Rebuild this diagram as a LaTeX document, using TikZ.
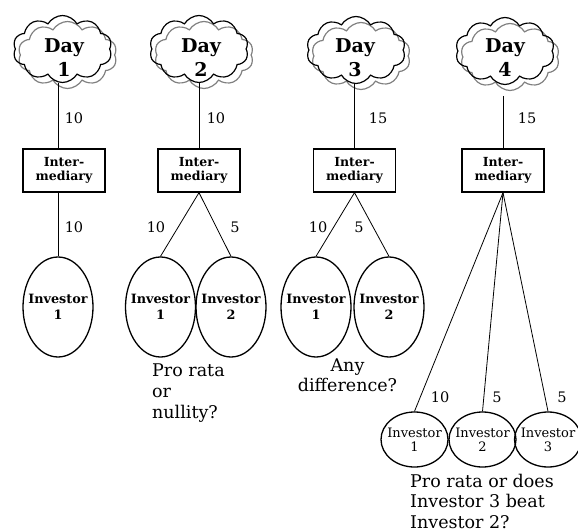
\documentclass[tikz,border=0pt]{standalone}
\usepackage{fontspec}
\setmainfont{DejaVu Serif}
\usetikzlibrary{shapes.symbols,shapes.geometric}
\begin{document}
\begin{tikzpicture}[x=1pt,y=-1pt,
 daycloud/.style={cloud, draw, line width=1.2pt, cloud puffs=10, cloud puff arc=120, minimum width=99pt, minimum height=67pt, inner sep=0pt},
 dayshadow/.style={daycloud, draw=black!50},
 daytxt/.style={font=\bfseries\fontsize{19}{24}\selectfont, align=center, inner sep=0pt},
 interbox/.style={draw, line width=1.3pt, minimum width=82pt, minimum height=43pt, inner sep=0pt, font=\bfseries\fontsize{12.5}{14.5}\selectfont, align=center},
 bigell/.style={ellipse, draw, line width=1.3pt, minimum width=70pt, minimum height=100pt, inner sep=0pt},
 bigtxt/.style={font=\bfseries\fontsize{12.8}{16}\selectfont, align=center, inner sep=0pt},
 smallell/.style={ellipse, draw, line width=1.3pt, minimum width=67pt, minimum height=55pt, inner sep=0pt},
 smalltxt/.style={font=\fontsize{13}{14}\selectfont, align=center, inner sep=0pt},
 amt/.style={font=\fontsize{14.5}{17}\selectfont, inner sep=0pt},
 note/.style={font=\fontsize{17.5}{21}\selectfont, align=left, inner sep=0pt, anchor=north west},
 link/.style={line width=0.8pt}
]
\path[use as bounding box] (0,0) rectangle (578,532);

% clouds (shadow first)
\node[dayshadow] (c1s) at (67.5,55) {};
\node[dayshadow] (c2s) at (204,55) {};
\node[dayshadow] (c3s) at (361,56) {};
\node[dayshadow] (c4s) at (510,57) {};
\node[daycloud] (c1) at (62.5,49) {};
\node[daycloud] (c2) at (199,49) {};
\node[daycloud] (c3) at (356,50) {};
\node[daycloud] (c4) at (505,51) {};
\node[daytxt] (t1) at (64,58) {Day\\1};
\node[daytxt] (t2) at (201,58) {Day\\2};
\node[daytxt] (t3) at (355,58) {Day\\3};
\node[daytxt] (t4) at (505,58) {Day\\4};

% intermediaries
\node[interbox] (b1) at (64,170.5) {Inter-\\mediary};
\node[interbox] (b2) at (199,170.5) {Inter-\\mediary};
\node[interbox] (b3) at (354.5,170.5) {Inter-\\mediary};
\node[interbox] (b4) at (503,170.5) {Inter-\\mediary};

% investors
\node[bigell] (e1) at (58,307) {};
\node[bigell] (e21) at (160.5,307) {};
\node[bigell] (e22) at (231,307) {};
\node[bigell] (e31) at (316,307) {};
\node[bigell] (e32) at (389,307) {};
\node[bigtxt] (e1t) at (e1) {Investor\\1};
\node[bigtxt] (e21t) at (e21) {Investor\\1};
\node[bigtxt] (e22t) at (e22) {Investor\\2};
\node[bigtxt] (e31t) at (e31) {Investor\\1};
\node[bigtxt] (e32t) at (e32) {Investor\\2};

\node[smallell] (s1) at (414.5,439.5) {};
\node[smallell] (s2) at (482.5,439.5) {};
\node[smallell] (s3) at (548,439.5) {};
\node[smalltxt] (s1t) at (s1) {Investor\\1};
\node[smalltxt] (s2t) at (s2) {Investor\\2};
\node[smalltxt] (s3t) at (s3) {Investor\\3};

% connectors
\draw[link] (e1.north |- c1.south) -- (e1.north |- b1.north);
\draw[link] (e1.north |- b1.south) -- (e1.north);
\draw[link] (b2.north |- c2.south) -- (b2.north);
\draw[link] (b2.south) -- (e21.north);
\draw[link] (b2.south) -- (e22.north);
\draw[link] (b3.north |- c3.south) -- (b3.north);
\draw[link] (b3.south) -- (e31.north);
\draw[link] (b3.south) -- (e32.north);
\coordinate (d4) at (503,96);
\draw[link] (d4) -- (b4.north);
\draw[link] (b4.south) -- (s1.north);
\draw[link] (b4.south) -- (s2.north);
\draw[link] (b4.south) -- (s3.north);

% amounts
\node[amt] (a1u) at (74,118) {10};
\node[amt] (a1l) at (74,227) {10};
\node[amt] (a2u) at (216,118) {10};
\node[amt] (a2a) at (156,227) {10};
\node[amt] (a2b) at (235,227) {5};
\node[amt] (a3u) at (378,118) {15};
\node[amt] (a3a) at (318,227) {10};
\node[amt] (a3b) at (359,227) {5};
\node[amt] (a4u) at (527,118) {15};
\node[amt] (a4a) at (440,397) {10};
\node[amt] (a4b) at (497,397) {5};
\node[amt] (a4c) at (562,397) {5};

% notes
\node[note] (n2) at (152,364) {Pro rata\\or\\nullity?};
\node[note, anchor=north, align=center, font=\fontsize{17.5}{20}\selectfont] (n3) at (347.5,358.5) {Any\\difference?};
\node[note, font=\fontsize{17.5}{20.5}\selectfont] (n4) at (410,473.5) {Pro rata or does\\Investor 3 beat\\Investor 2?};
\end{tikzpicture}
\end{document}
